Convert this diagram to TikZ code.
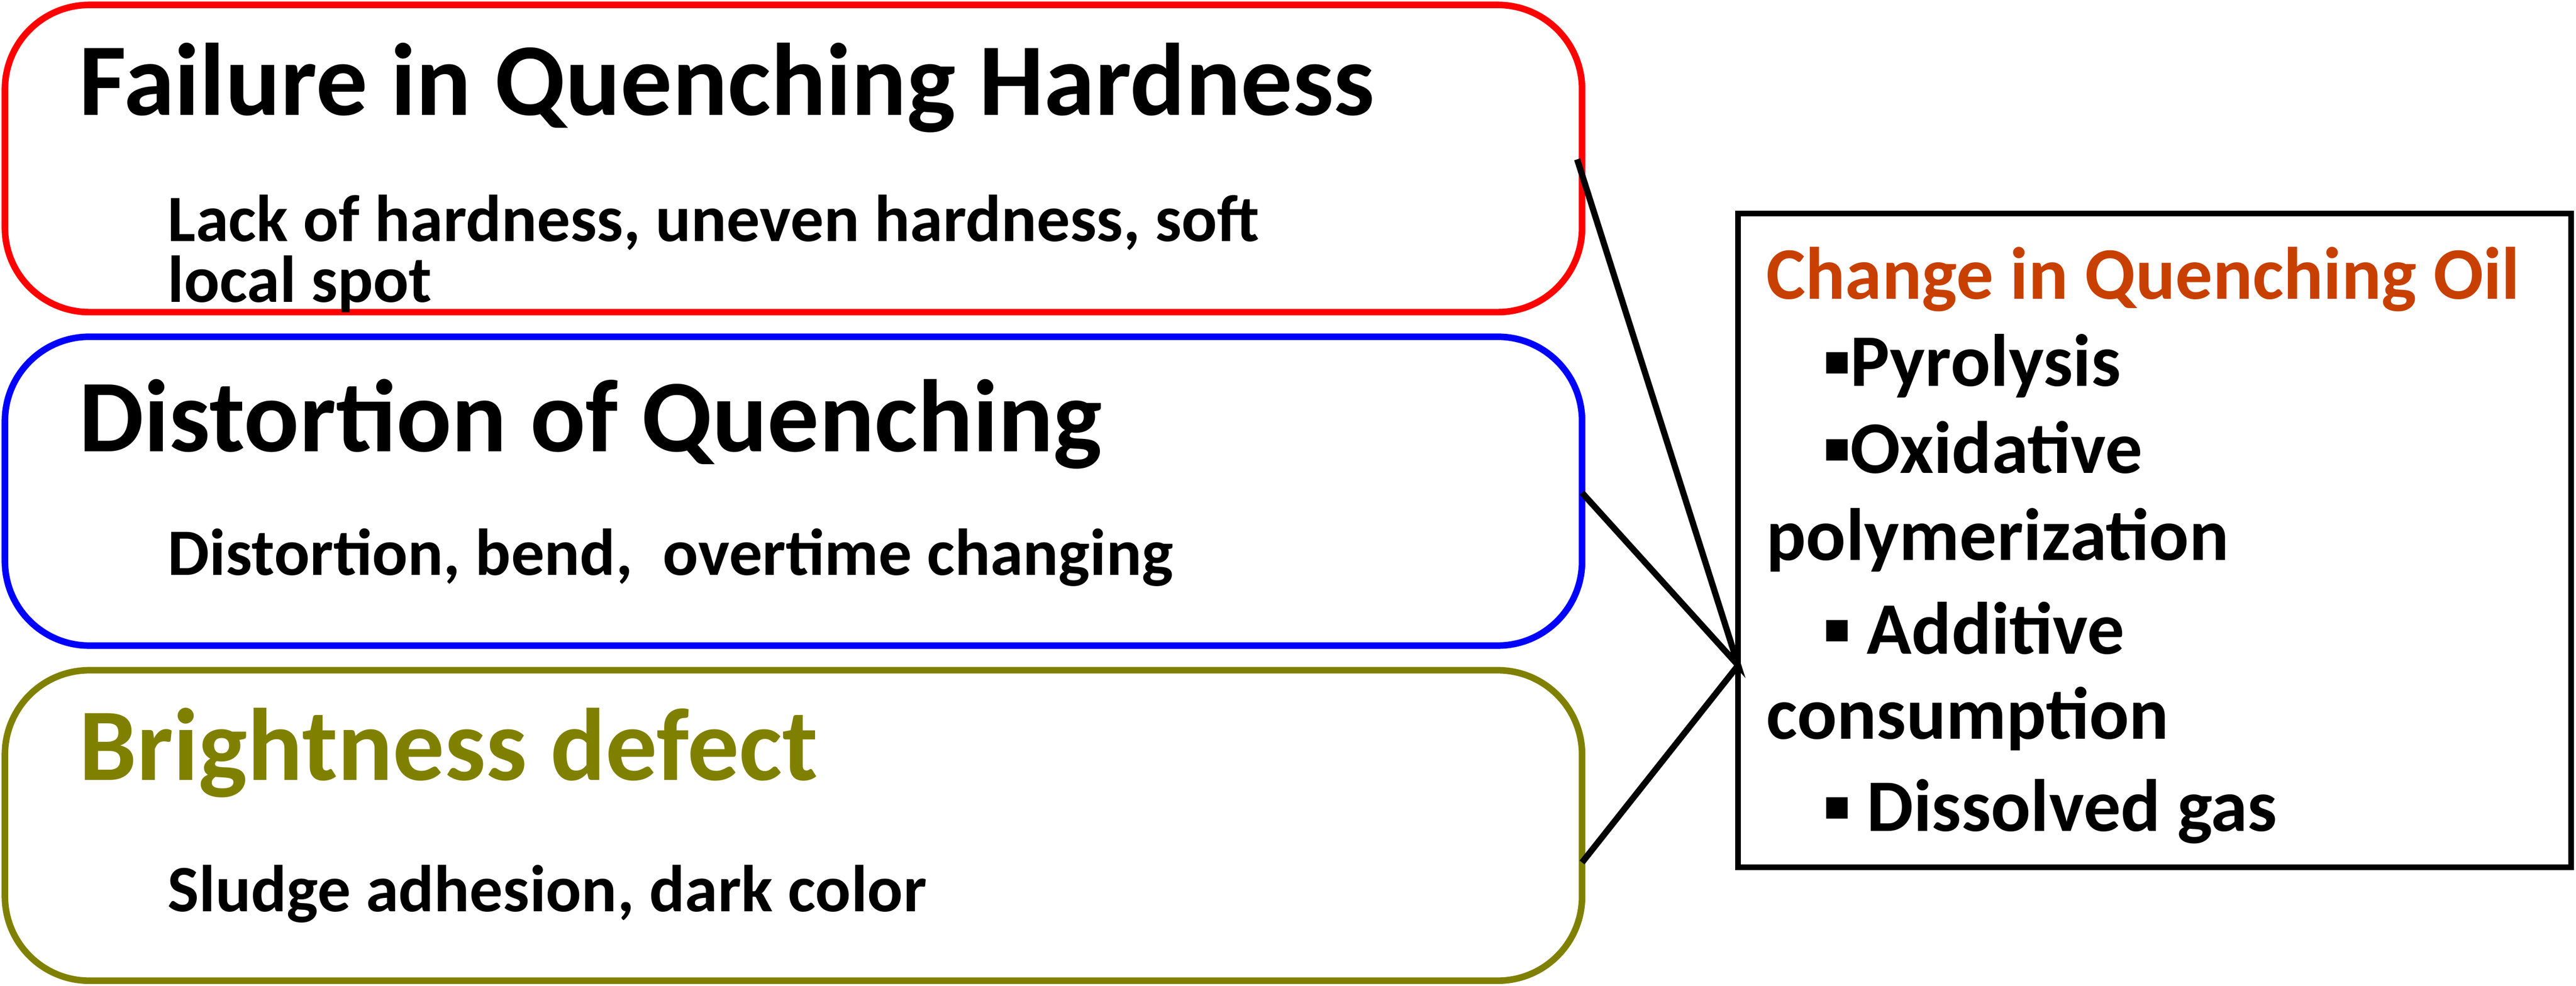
\documentclass[tikz,border=0pt]{standalone}
\usepackage{fontspec}
\setmainfont{Carlito}
\definecolor{oilred}{RGB}{200,64,0}
\definecolor{olive2}{RGB}{128,128,0}
\begin{document}
\begin{tikzpicture}[x=0.037cm,y=-0.037cm,
  rbox/.style={line width=4.2pt,rounded corners=1.9cm},
  title/.style={anchor=base west,inner sep=0,font=\fontsize{66}{72}\selectfont\bfseries},
  sub/.style={anchor=base west,inner sep=0,font=\fontsize{42.5}{48}\selectfont\bfseries,align=left},
  oil/.style={anchor=base west,inner sep=0,font=\fontsize{47.5}{52}\selectfont\bfseries},
  conn/.style={line width=4pt}]
\useasboundingbox (0,0) rectangle (1568,600);
\draw[rbox,red] (3,3) rectangle (963,190);
\draw[rbox,blue] (3,205) rectangle (963,393);
\draw[rbox,olive2] (3,408) rectangle (963,597);
\node[title] (t1) at (48,70) {Failure in Quenching Hardness};
\node[sub] (s1) at (102,147) {Lack of hardness, uneven hardness, soft};
\node[sub] (s1b) at (102,184) {local spot};
\node[title] (t2) at (48,275) {Distortion of Quenching};
\node[sub] (s2) at (102,350) {Distortion, bend,\ \ overtime changing};
\node[title,text=olive2] (t3) at (48,475) {Brightness defect};
\node[sub] (s3) at (102,555) {Sludge adhesion, dark color};
\draw[line width=3.5pt] (1058,130) rectangle (1565,528);
\node[oil,text=oilred] (o0) at (1075,182) {Change in Quenching Oil};
\node[oil] (o1) at (1110,235) {▪Pyrolysis};
\node[oil] (o2) at (1110,288) {▪Oxidative};
\node[oil] (o3) at (1075,341) {polymerization};
\node[oil] (o4) at (1110,398) {▪ Additive};
\node[oil] (o5) at (1075,450) {consumption};
\node[oil] (o6) at (1110,506) {▪ Dissolved gas};
\coordinate (hub) at (1058,405);
\coordinate (e1) at (960,97);
\coordinate (e2) at (963,300);
\coordinate (e3) at (963,525);
\draw[conn] (e1) -- (hub) -- (e2);
\draw[conn] (e3) -- (hub);
\end{tikzpicture}
\end{document}
